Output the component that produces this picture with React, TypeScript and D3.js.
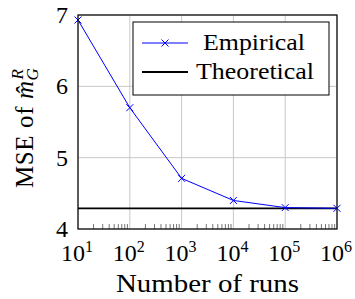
import * as d3 from 'd3';
import React, { useEffect, useRef } from 'react';

const runs = [1e1, 1e2, 1e3, 1e4, 1e5, 1e6];
const empirical = [6.93, 5.7, 4.71, 4.4, 4.3, 4.29];
const theoretical = 4.29;
const yTicks = [4, 5, 6, 7];
const xExponents = [1, 2, 3, 4, 5, 6];
const seriesNames = ['Empirical', 'Theoretical'];

const W = 355;
const H = 299;
const FONT = "'Liberation Serif', 'DejaVu Serif', 'Times New Roman', serif";

const App: React.FC = () => {
  const ref = useRef<SVGSVGElement | null>(null);

  useEffect(() => {
    const svg = d3.select(ref.current);
    svg.selectAll('*').remove();
    const plot = { left: 78, right: 337, top: 15, bottom: 229 };

    const x = d3.scaleLog().domain([1e1, 1e6]).range([plot.left, plot.right]);
    const y = d3.scaleLinear().domain([4, 7]).range([plot.bottom, plot.top]);

    const g = svg.append('g').attr('font-family', FONT);

    // grid
    g.selectAll('.vgrid').data(runs).enter().append('line')
      .attr('x1', d => x(d)).attr('x2', d => x(d))
      .attr('y1', plot.top).attr('y2', plot.bottom)
      .attr('stroke', '#c8c8c8').attr('stroke-width', 1);
    g.selectAll('.hgrid').data(yTicks).enter().append('line')
      .attr('x1', plot.left).attr('x2', plot.right)
      .attr('y1', d => y(d)).attr('y2', d => y(d))
      .attr('stroke', '#c8c8c8').attr('stroke-width', 1);

    // minor ticks on bottom axis
    const minors: number[] = [];
    for (let e = 1; e < 6; e++) for (let k = 2; k <= 9; k++) minors.push(k * Math.pow(10, e));
    g.selectAll('.minor').data(minors).enter().append('line')
      .attr('x1', d => x(d)).attr('x2', d => x(d))
      .attr('y1', plot.bottom).attr('y2', plot.bottom - 5)
      .attr('stroke', '#555').attr('stroke-width', 0.8);

    // theoretical
    g.append('line')
      .attr('x1', plot.left).attr('x2', plot.right)
      .attr('y1', y(theoretical)).attr('y2', y(theoretical))
      .attr('stroke', 'black').attr('stroke-width', 1.8);

    // empirical
    const line = d3.line<number>().x((_, i) => x(runs[i])).y(d => y(d));
    g.append('path').datum(empirical)
      .attr('d', line).attr('fill', 'none')
      .attr('stroke', '#0000ff').attr('stroke-width', 1);
    const cross = (sel: d3.Selection<SVGPathElement, any, any, any>, cx: (d: any, i: number) => number, cy: (d: any, i: number) => number) =>
      sel.attr('d', (d, i) => {
        const a = cx(d, i), b = cy(d, i), s = 3.5;
        return `M${a - s},${b - s}L${a + s},${b + s}M${a - s},${b + s}L${a + s},${b - s}`;
      }).attr('stroke', '#0000ff').attr('stroke-width', 1).attr('fill', 'none');
    cross(g.selectAll('.mk').data(empirical).enter().append('path'), (_, i) => x(runs[i]), d => y(d));

    // frame
    g.append('rect')
      .attr('x', plot.left).attr('y', plot.top)
      .attr('width', plot.right - plot.left).attr('height', plot.bottom - plot.top)
      .attr('fill', 'none').attr('stroke', 'black').attr('stroke-width', 1.2);

    // y tick labels
    g.selectAll('.ytl').data(yTicks).enter().append('text')
      .attr('x', plot.left - 10).attr('y', d => y(d) + 8)
      .attr('text-anchor', 'end').attr('font-size', 24)
      .text(d => d);

    // x tick labels
    const xt = g.selectAll('.xtl').data(xExponents).enter().append('text')
      .attr('x', d => x(Math.pow(10, d)) - 1).attr('y', 260.5)
      .attr('text-anchor', 'middle').attr('font-size', 24);
    xt.append('tspan').text('10');
    xt.append('tspan').attr('dy', -9).attr('font-size', 16).text(d => d);

    // axis labels
    g.append('text')
      .attr('x', 116).attr('y', 292)
      .attr('textLength', 183).attr('lengthAdjust', 'spacingAndGlyphs')
      .attr('font-size', 25)
      .text('Number of runs');

    const yl = g.append('g').attr('transform', 'translate(33,188) rotate(-90)');
    const t = yl.append('text').attr('font-size', 25).attr('letter-spacing', 0.6);
    t.append('tspan').text('MSE of ');
    t.append('tspan').attr('font-style', 'italic').text('m\u0302');
    t.append('tspan').attr('font-style', 'italic').attr('font-size', 17).attr('dy', 5).text('G');
    t.append('tspan').attr('font-style', 'italic').attr('font-size', 17).attr('dx', -12).attr('dy', -15).text('R');

    // legend
    const lg = g.append('g');
    lg.append('rect')
      .attr('x', 133).attr('y', 22).attr('width', 196).attr('height', 73)
      .attr('fill', 'white').attr('stroke', 'black').attr('stroke-width', 1);
    const rows = [43, 72];
    const textStart = [203, 196];
    const textLen = [102, 118];
    seriesNames.forEach((name, i) => {
      lg.append('line')
        .attr('x1', 142).attr('x2', 188).attr('y1', rows[i]).attr('y2', rows[i])
        .attr('stroke', i === 0 ? '#0000ff' : 'black').attr('stroke-width', i === 0 ? 1 : 1.8);
      lg.append('text')
        .attr('x', textStart[i]).attr('y', rows[i] + 7)
        .attr('textLength', textLen[i]).attr('lengthAdjust', 'spacingAndGlyphs')
        .attr('font-size', 23)
        .text(name);
    });
    cross(lg.append('path'), () => 165, () => rows[0]);
  }, []);

  return (
    <svg ref={ref} width={W} height={H}
      style={{ position: 'absolute', left: 0, top: 0, background: 'white' }} />
  );
};

export default App;
